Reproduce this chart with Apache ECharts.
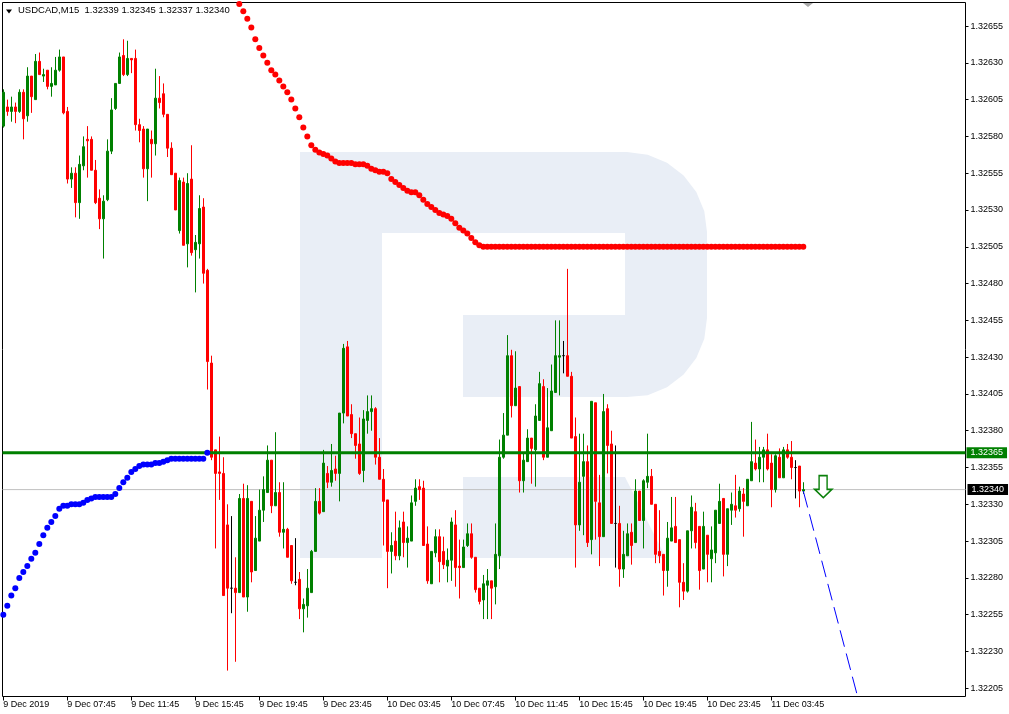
<!DOCTYPE html>
<html>
<head>
<meta charset="utf-8">
<script src="https://cdn.jsdelivr.net/npm/echarts@6/dist/echarts.min.js"></script>
<style>html,body{margin:0;padding:0;background:#fff}#c{width:1009px;height:714px}</style>
</head>
<body>
<div id="c"></div>
<script>
// ---- data (USDCAD, M15) ----
const symbolName = 'USDCAD,M15';
const lastQuote = ['1.32339', '1.32345', '1.32337', '1.32340'];

const open = [
1.32587,1.32600,1.32597,1.32600,1.32597,1.32610,1.32594,1.32621,1.32605,1.32631,
1.32621,1.32625,1.32614,1.32615,1.32625,1.32634,1.32597,1.32551,1.32555,1.32535,
1.32560,1.32578,1.32578,1.32557,1.32538,1.32524,1.32537,1.32570,1.32599,1.32616,
1.32635,1.32622,1.32633,1.32633,1.32588,1.32585,1.32558,1.32578,1.32575,1.32606,
1.32609,1.32595,1.32572,1.32555,1.32516,1.32549,1.32507,1.32551,1.32503,1.32507,
1.32532,1.32489,1.32426,1.32367,1.32352,1.32351,1.32316,1.32273,1.32273,1.32270,
1.32334,1.32267,1.32332,1.32285,1.32305,1.32326,1.32338,1.32360,1.32329,1.32338,
1.32311,1.32313,1.32302,1.32277,1.32279,1.32259,1.32261,1.32270,1.32298,1.32332,
1.32325,1.32351,1.32345,1.32354,1.32351,1.32392,1.32437,1.32391,1.32378,1.32371,
1.32353,1.32387,1.32393,1.32395,1.32362,1.32347,1.32333,1.32298,1.32305,1.32295,
1.32318,1.32304,1.32305,1.32332,1.32342,1.32341,1.32303,1.32276,1.32297,1.32308,
1.32298,1.32288,1.32292,1.32316,1.32288,1.32287,1.32302,1.32310,1.32294,1.32273,
1.32265,1.32275,1.32278,1.32274,1.32295,1.32362,1.32377,1.32431,1.32397,1.32410,
1.32346,1.32359,1.32375,1.32367,1.32387,1.32410,1.32362,1.32380,1.32406,1.32430,
1.32431,1.32431,1.32417,1.32376,1.32316,1.32349,1.32359,1.32306,1.32399,1.32331,
1.32308,1.32395,1.32371,1.32317,1.32317,1.32286,1.32295,1.32311,1.32304,1.32339,
1.32319,1.32345,1.32349,1.32330,1.32298,1.32296,1.32285,1.32305,1.32315,1.32306,
1.32277,1.32271,1.32312,1.32325,1.32315,1.32286,1.32309,1.32293,1.32297,1.32317,
1.32334,1.32296,1.32326,1.32329,1.32327,1.32337,1.32329,1.32346,1.32358,1.32354,
1.32362,1.32367,1.32358,1.32340,1.32362,1.32348,1.32367,1.32362,1.32355,1.32356,
1.32339
];
const high = [
1.32612,1.32605,1.32607,1.32603,1.32612,1.32612,1.32627,1.32621,1.32636,1.32637,
1.32626,1.32625,1.32627,1.32634,1.32639,1.32634,1.32600,1.32559,1.32559,1.32567,
1.32580,1.32587,1.32580,1.32564,1.32544,1.32540,1.32578,1.32606,1.32616,1.32637,
1.32646,1.32645,1.32633,1.32639,1.32592,1.32587,1.32585,1.32584,1.32626,1.32621,
1.32616,1.32595,1.32576,1.32555,1.32552,1.32552,1.32555,1.32574,1.32513,1.32540,
1.32538,1.32490,1.32431,1.32367,1.32376,1.32362,1.32330,1.32322,1.32294,1.32337,
1.32344,1.32343,1.32332,1.32322,1.32340,1.32349,1.32370,1.32360,1.32379,1.32345,
1.32345,1.32314,1.32302,1.32307,1.32284,1.32266,1.32286,1.32299,1.32341,1.32341,
1.32367,1.32356,1.32371,1.32363,1.32392,1.32439,1.32441,1.32398,1.32378,1.32389,
1.32394,1.32404,1.32404,1.32396,1.32375,1.32354,1.32333,1.32311,1.32325,1.32319,
1.32325,1.32315,1.32336,1.32347,1.32347,1.32346,1.32315,1.32298,1.32313,1.32313,
1.32308,1.32300,1.32321,1.32326,1.32306,1.32306,1.32317,1.32317,1.32294,1.32273,
1.32282,1.32286,1.32278,1.32317,1.32374,1.32392,1.32445,1.32435,1.32434,1.32410,
1.32365,1.32381,1.32375,1.32398,1.32420,1.32415,1.32409,1.32425,1.32455,1.32455,
1.32441,1.32490,1.32420,1.32389,1.32378,1.32378,1.32370,1.32400,1.32399,1.32350,
1.32405,1.32398,1.32380,1.32370,1.32329,1.32312,1.32317,1.32317,1.32347,1.32339,
1.32347,1.32378,1.32354,1.32330,1.32326,1.32296,1.32318,1.32335,1.32335,1.32306,
1.32290,1.32312,1.32336,1.32331,1.32315,1.32325,1.32309,1.32315,1.32326,1.32344,
1.32334,1.32327,1.32338,1.32350,1.32342,1.32341,1.32347,1.32386,1.32374,1.32369,
1.32369,1.32378,1.32364,1.32364,1.32368,1.32369,1.32371,1.32373,1.32360,1.32356,
1.32345
];
const low = [
1.32586,1.32594,1.32590,1.32589,1.32596,1.32578,1.32590,1.32596,1.32605,1.32622,
1.32617,1.32612,1.32607,1.32615,1.32624,1.32595,1.32548,1.32545,1.32525,1.32524,
1.32557,1.32552,1.32557,1.32534,1.32517,1.32497,1.32536,1.32568,1.32598,1.32616,
1.32621,1.32621,1.32623,1.32584,1.32576,1.32552,1.32536,1.32552,1.32567,1.32599,
1.32593,1.32566,1.32554,1.32530,1.32514,1.32506,1.32491,1.32499,1.32474,1.32497,
1.32480,1.32408,1.32360,1.32300,1.32333,1.32268,1.32217,1.32256,1.32223,1.32270,
1.32267,1.32257,1.32277,1.32285,1.32305,1.32318,1.32338,1.32324,1.32329,1.32308,
1.32300,1.32294,1.32276,1.32275,1.32252,1.32243,1.32253,1.32270,1.32298,1.32323,
1.32325,1.32341,1.32342,1.32346,1.32332,1.32385,1.32390,1.32375,1.32361,1.32350,
1.32345,1.32378,1.32380,1.32357,1.32347,1.32302,1.32273,1.32283,1.32292,1.32292,
1.32294,1.32287,1.32305,1.32329,1.32333,1.32302,1.32276,1.32276,1.32294,1.32277,
1.32286,1.32277,1.32278,1.32274,1.32266,1.32287,1.32301,1.32293,1.32270,1.32262,
1.32252,1.32252,1.32252,1.32262,1.32286,1.32361,1.32377,1.32389,1.32397,1.32338,
1.32338,1.32359,1.32344,1.32342,1.32387,1.32360,1.32362,1.32380,1.32406,1.32404,
1.32419,1.32417,1.32375,1.32287,1.32312,1.32309,1.32301,1.32296,1.32306,1.32288,
1.32308,1.32351,1.32317,1.32287,1.32274,1.32280,1.32295,1.32289,1.32304,1.32319,
1.32300,1.32341,1.32330,1.32290,1.32290,1.32268,1.32274,1.32305,1.32304,1.32260,
1.32265,1.32270,1.32300,1.32300,1.32272,1.32286,1.32277,1.32277,1.32290,1.32317,
1.32281,1.32288,1.32316,1.32321,1.32325,1.32308,1.32329,1.32346,1.32353,1.32345,
1.32345,1.32353,1.32328,1.32338,1.32348,1.32348,1.32361,1.32347,1.32334,1.32328,
1.32337
];
const close = [
1.32610,1.32597,1.32600,1.32597,1.32610,1.32592,1.32621,1.32607,1.32631,1.32622,
1.32622,1.32614,1.32616,1.32625,1.32634,1.32596,1.32551,1.32555,1.32535,1.32561,
1.32573,1.32577,1.32557,1.32535,1.32524,1.32536,1.32570,1.32598,1.32616,1.32634,
1.32622,1.32633,1.32632,1.32588,1.32584,1.32558,1.32585,1.32575,1.32606,1.32603,
1.32595,1.32572,1.32554,1.32530,1.32550,1.32506,1.32548,1.32501,1.32508,1.32531,
1.32487,1.32427,1.32362,1.32351,1.32351,1.32268,1.32273,1.32273,1.32270,1.32334,
1.32267,1.32334,1.32284,1.32307,1.32326,1.32340,1.32360,1.32329,1.32338,1.32311,
1.32313,1.32294,1.32278,1.32277,1.32259,1.32262,1.32273,1.32298,1.32332,1.32324,
1.32358,1.32345,1.32353,1.32351,1.32392,1.32436,1.32390,1.32378,1.32370,1.32351,
1.32388,1.32393,1.32395,1.32362,1.32347,1.32332,1.32298,1.32302,1.32295,1.32314,
1.32304,1.32307,1.32331,1.32341,1.32340,1.32302,1.32278,1.32298,1.32308,1.32291,
1.32289,1.32292,1.32318,1.32287,1.32287,1.32301,1.32310,1.32294,1.32272,1.32264,
1.32276,1.32278,1.32273,1.32296,1.32362,1.32377,1.32431,1.32397,1.32409,1.32346,
1.32360,1.32375,1.32368,1.32390,1.32412,1.32362,1.32382,1.32407,1.32431,1.32431,
1.32431,1.32417,1.32375,1.32316,1.32345,1.32359,1.32304,1.32400,1.32332,1.32308,
1.32393,1.32370,1.32317,1.32317,1.32286,1.32296,1.32310,1.32302,1.32339,1.32319,
1.32346,1.32349,1.32330,1.32296,1.32295,1.32285,1.32307,1.32314,1.32304,1.32277,
1.32271,1.32312,1.32328,1.32304,1.32285,1.32315,1.32296,1.32299,1.32326,1.32332,
1.32296,1.32327,1.32330,1.32326,1.32339,1.32332,1.32347,1.32359,1.32354,1.32362,
1.32367,1.32354,1.32340,1.32363,1.32348,1.32367,1.32362,1.32355,1.32355,1.32339,
1.32340
];

// trailing indicator: support dots (blue, from bar 0) and resistance dots (red, from bar 59)
const supportStart = 0;
const supportDots = [
1.32255,1.32261,1.32268,1.32273,1.32280,1.32284,1.32288,1.32293,1.32297,1.32303,
1.32309,1.32314,1.32318,1.32322,1.32327,1.32329,1.32329,1.32330,1.32330,1.32330,
1.32331,1.32333,1.32334,1.32335,1.32335,1.32335,1.32335,1.32335,1.32337,1.32341,
1.32345,1.32348,1.32352,1.32354,1.32356,1.32357,1.32357,1.32357,1.32358,1.32358,
1.32359,1.32360,1.32361,1.32361,1.32361,1.32361,1.32361,1.32361,1.32361,1.32361,
1.32361,1.32365
];
const resistanceStart = 59;
const resistanceDots = [
1.32670,1.32665,1.32660,1.32654,1.32646,1.32640,1.32635,1.32630,1.32625,1.32622,
1.32618,1.32614,1.32610,1.32605,1.32599,1.32593,1.32586,1.32580,1.32574,1.32571,
1.32569,1.32568,1.32567,1.32565,1.32563,1.32562,1.32562,1.32562,1.32562,1.32561,
1.32561,1.32561,1.32560,1.32558,1.32557,1.32556,1.32556,1.32555,1.32551,1.32549,
1.32547,1.32545,1.32543,1.32542,1.32542,1.32540,1.32537,1.32534,1.32532,1.32530,
1.32528,1.32527,1.32526,1.32524,1.32521,1.32518,1.32516,1.32514,1.32511,1.32508,
1.32506,1.32505,1.32505,1.32505,1.32505,1.32505,1.32505,1.32505,1.32505,1.32505,
1.32505,1.32505,1.32505,1.32505,1.32505,1.32505,1.32505,1.32505,1.32505,1.32505,
1.32505,1.32505,1.32505,1.32505,1.32505,1.32505,1.32505,1.32505,1.32505,1.32505,
1.32505,1.32505,1.32505,1.32505,1.32505,1.32505,1.32505,1.32505,1.32505,1.32505,
1.32505,1.32505,1.32505,1.32505,1.32505,1.32505,1.32505,1.32505,1.32505,1.32505,
1.32505,1.32505,1.32505,1.32505,1.32505,1.32505,1.32505,1.32505,1.32505,1.32505,
1.32505,1.32505,1.32505,1.32505,1.32505,1.32505,1.32505,1.32505,1.32505,1.32505,
1.32505,1.32505,1.32505,1.32505,1.32505,1.32505,1.32505,1.32505,1.32505,1.32505,
1.32505,1.32505
];

const levelPrice = 1.32365;   // horizontal level (green)
const bidPrice = 1.32340;     // current bid (grey)
const forecastLine = [[200, 1.32339], [214, 1.32195]];
const signalArrow = [[205, 1.32342]];

const xTickIndex = [0, 16, 32, 48, 64, 80, 96, 112, 128, 144, 160, 176, 192];
const xTickLabels = ['9 Dec 2019', '9 Dec 07:45', '9 Dec 11:45', '9 Dec 15:45', '9 Dec 19:45',
  '9 Dec 23:45', '10 Dec 03:45', '10 Dec 07:45', '10 Dec 11:45', '10 Dec 15:45',
  '10 Dec 19:45', '10 Dec 23:45', '11 Dec 03:45'];
const yTickLabels = ['1.32205', '1.32230', '1.32255', '1.32280', '1.32305', '1.32330', '1.32355',
  '1.32380', '1.32405', '1.32430', '1.32455', '1.32480', '1.32505', '1.32530', '1.32555',
  '1.32580', '1.32605', '1.32630', '1.32655'];

// ---- chart ----
const FONT = "'Liberation Sans', Arial, sans-serif";
const X_MIN = -0.2, X_MAX = 240.55;
const yTickValues = yTickLabels.map(Number);
const candles = open.map((o, i) => [i, o, close[i], low[i], high[i]]);
const supportData = supportDots.map((v, k) => [supportStart + k, v]);
const resistanceData = resistanceDots.map((v, k) => [resistanceStart + k, v]);
const hLine = (p) => [[X_MIN, p], [X_MAX, p]];

// watermark logo outline (decoration, pixel space)
const logoMain = [[300,152],[627,152],[647.7,154.7],[667,162.7],[683.6,175.4],[696.3,192],[704.3,211.3],
  [707,232],[707,318],[704.3,338.7],[696.3,358],[683.6,374.6],[667,387.3],[647.7,395.3],[627,397],
  [463,397],[463,315],[625,315],[625,233],[382,233],[382,558],[300,558]];
const logoLeg = [[463,477],[625,477],[666,558],[463,558]];

const priceTag = (bg, text, dist) => ({
  show: true, distance: dist, formatter: text,
  backgroundColor: bg, color: '#fff', padding: [1, 4, 1, 4], lineHeight: 9,
  fontSize: 9, fontFamily: FONT
});

const chart = echarts.init(document.getElementById('c'), null, { renderer: 'canvas' });
chart.setOption({
  animation: false,
  backgroundColor: '#ffffff',
  title: {
    text: symbolName + '  ' + lastQuote.join(' '),
    left: 18, top: 5, padding: 0,
    textStyle: { fontSize: 9.5, fontWeight: 'normal', fontFamily: FONT, color: '#000' }
  },
  graphic: {
    elements: [
      { type: 'polygon', z: -10, silent: true, shape: { points: logoMain }, style: { fill: '#E9EEF6' } },
      { type: 'polygon', z: -10, silent: true, shape: { points: logoLeg }, style: { fill: '#E9EEF6' } },
      { type: 'polygon', z: 100, silent: true,
        shape: { points: [[6, 9.5], [12, 9.5], [9, 13.5]] }, style: { fill: '#000' } },
      { type: 'polygon', z: 100, silent: true,
        shape: { points: [[803, 3], [813, 3], [808, 7]] }, style: { fill: '#A8A8A8' } }
    ]
  },
  grid: { left: 2.5, top: 2.5, right: 43.5, bottom: 17.5, show: true,
    borderColor: '#000', borderWidth: 1, backgroundColor: 'transparent' },
  xAxis: {
    type: 'value', min: X_MIN, max: X_MAX,
    axisLine: { show: false, onZero: false }, splitLine: { show: false },
    axisTick: { show: true, customValues: xTickIndex, length: 4, lineStyle: { color: '#000' } },
    axisLabel: { show: true, customValues: xTickIndex,
      formatter: v => xTickLabels[xTickIndex.indexOf(v)] || '',
      align: 'left', margin: 4, fontSize: 9, fontFamily: FONT, color: '#000' }
  },
  yAxis: {
    type: 'value', position: 'right', min: 1.321994, max: 1.32671,
    axisLine: { show: false, onZero: false }, splitLine: { show: false },
    axisTick: { show: true, customValues: yTickValues, length: 3, lineStyle: { color: '#000' } },
    axisLabel: { customValues: yTickValues, formatter: v => v.toFixed(5),
      margin: 5, fontSize: 9, fontFamily: FONT, color: '#000' }
  },
  series: [
    {
      type: 'line', data: hLine(bidPrice), symbol: 'none', z: 1, clip: false,
      lineStyle: { color: '#C0C0C0', width: 1 },
      endLabel: priceTag('#000', bidPrice.toFixed(5), 2)
    },
    {
      type: 'candlestick', data: candles, barWidth: 2, z: 2,
      itemStyle: { color: '#008000', color0: '#FF0000', borderColor: '#008000',
        borderColor0: '#FF0000', borderColorDoji: '#000000', borderWidth: 1 }
    },
    {
      type: 'line', data: hLine(levelPrice), symbol: 'none', z: 4, clip: false,
      lineStyle: { color: '#008000', width: 3 },
      endLabel: priceTag('#008000', levelPrice.toFixed(5), 1)
    },
    {
      type: 'scatter', data: supportData, symbol: 'circle', symbolSize: 6, z: 5,
      itemStyle: { color: '#0000FF', opacity: 1 }
    },
    {
      type: 'scatter', data: resistanceData, symbol: 'circle', symbolSize: 6, z: 5,
      itemStyle: { color: '#FF0000', opacity: 1 }
    },
    {
      type: 'line', data: forecastLine, symbol: 'none', z: 6, clip: true,
      lineStyle: { color: '#0000FF', width: 1, type: [17, 7] }
    },
    {
      type: 'scatter', data: signalArrow, z: 7,
      symbol: 'path://M4.3,0 L12.3,0 L12.3,14 L17,14 L8.5,22.3 L0,14 L4.3,14 Z',
      symbolSize: [17, 22],
      itemStyle: { color: '#ffffff', borderColor: '#0A800A', borderWidth: 1.6, opacity: 1 }
    }
  ]
});
</script>
</body>
</html>
